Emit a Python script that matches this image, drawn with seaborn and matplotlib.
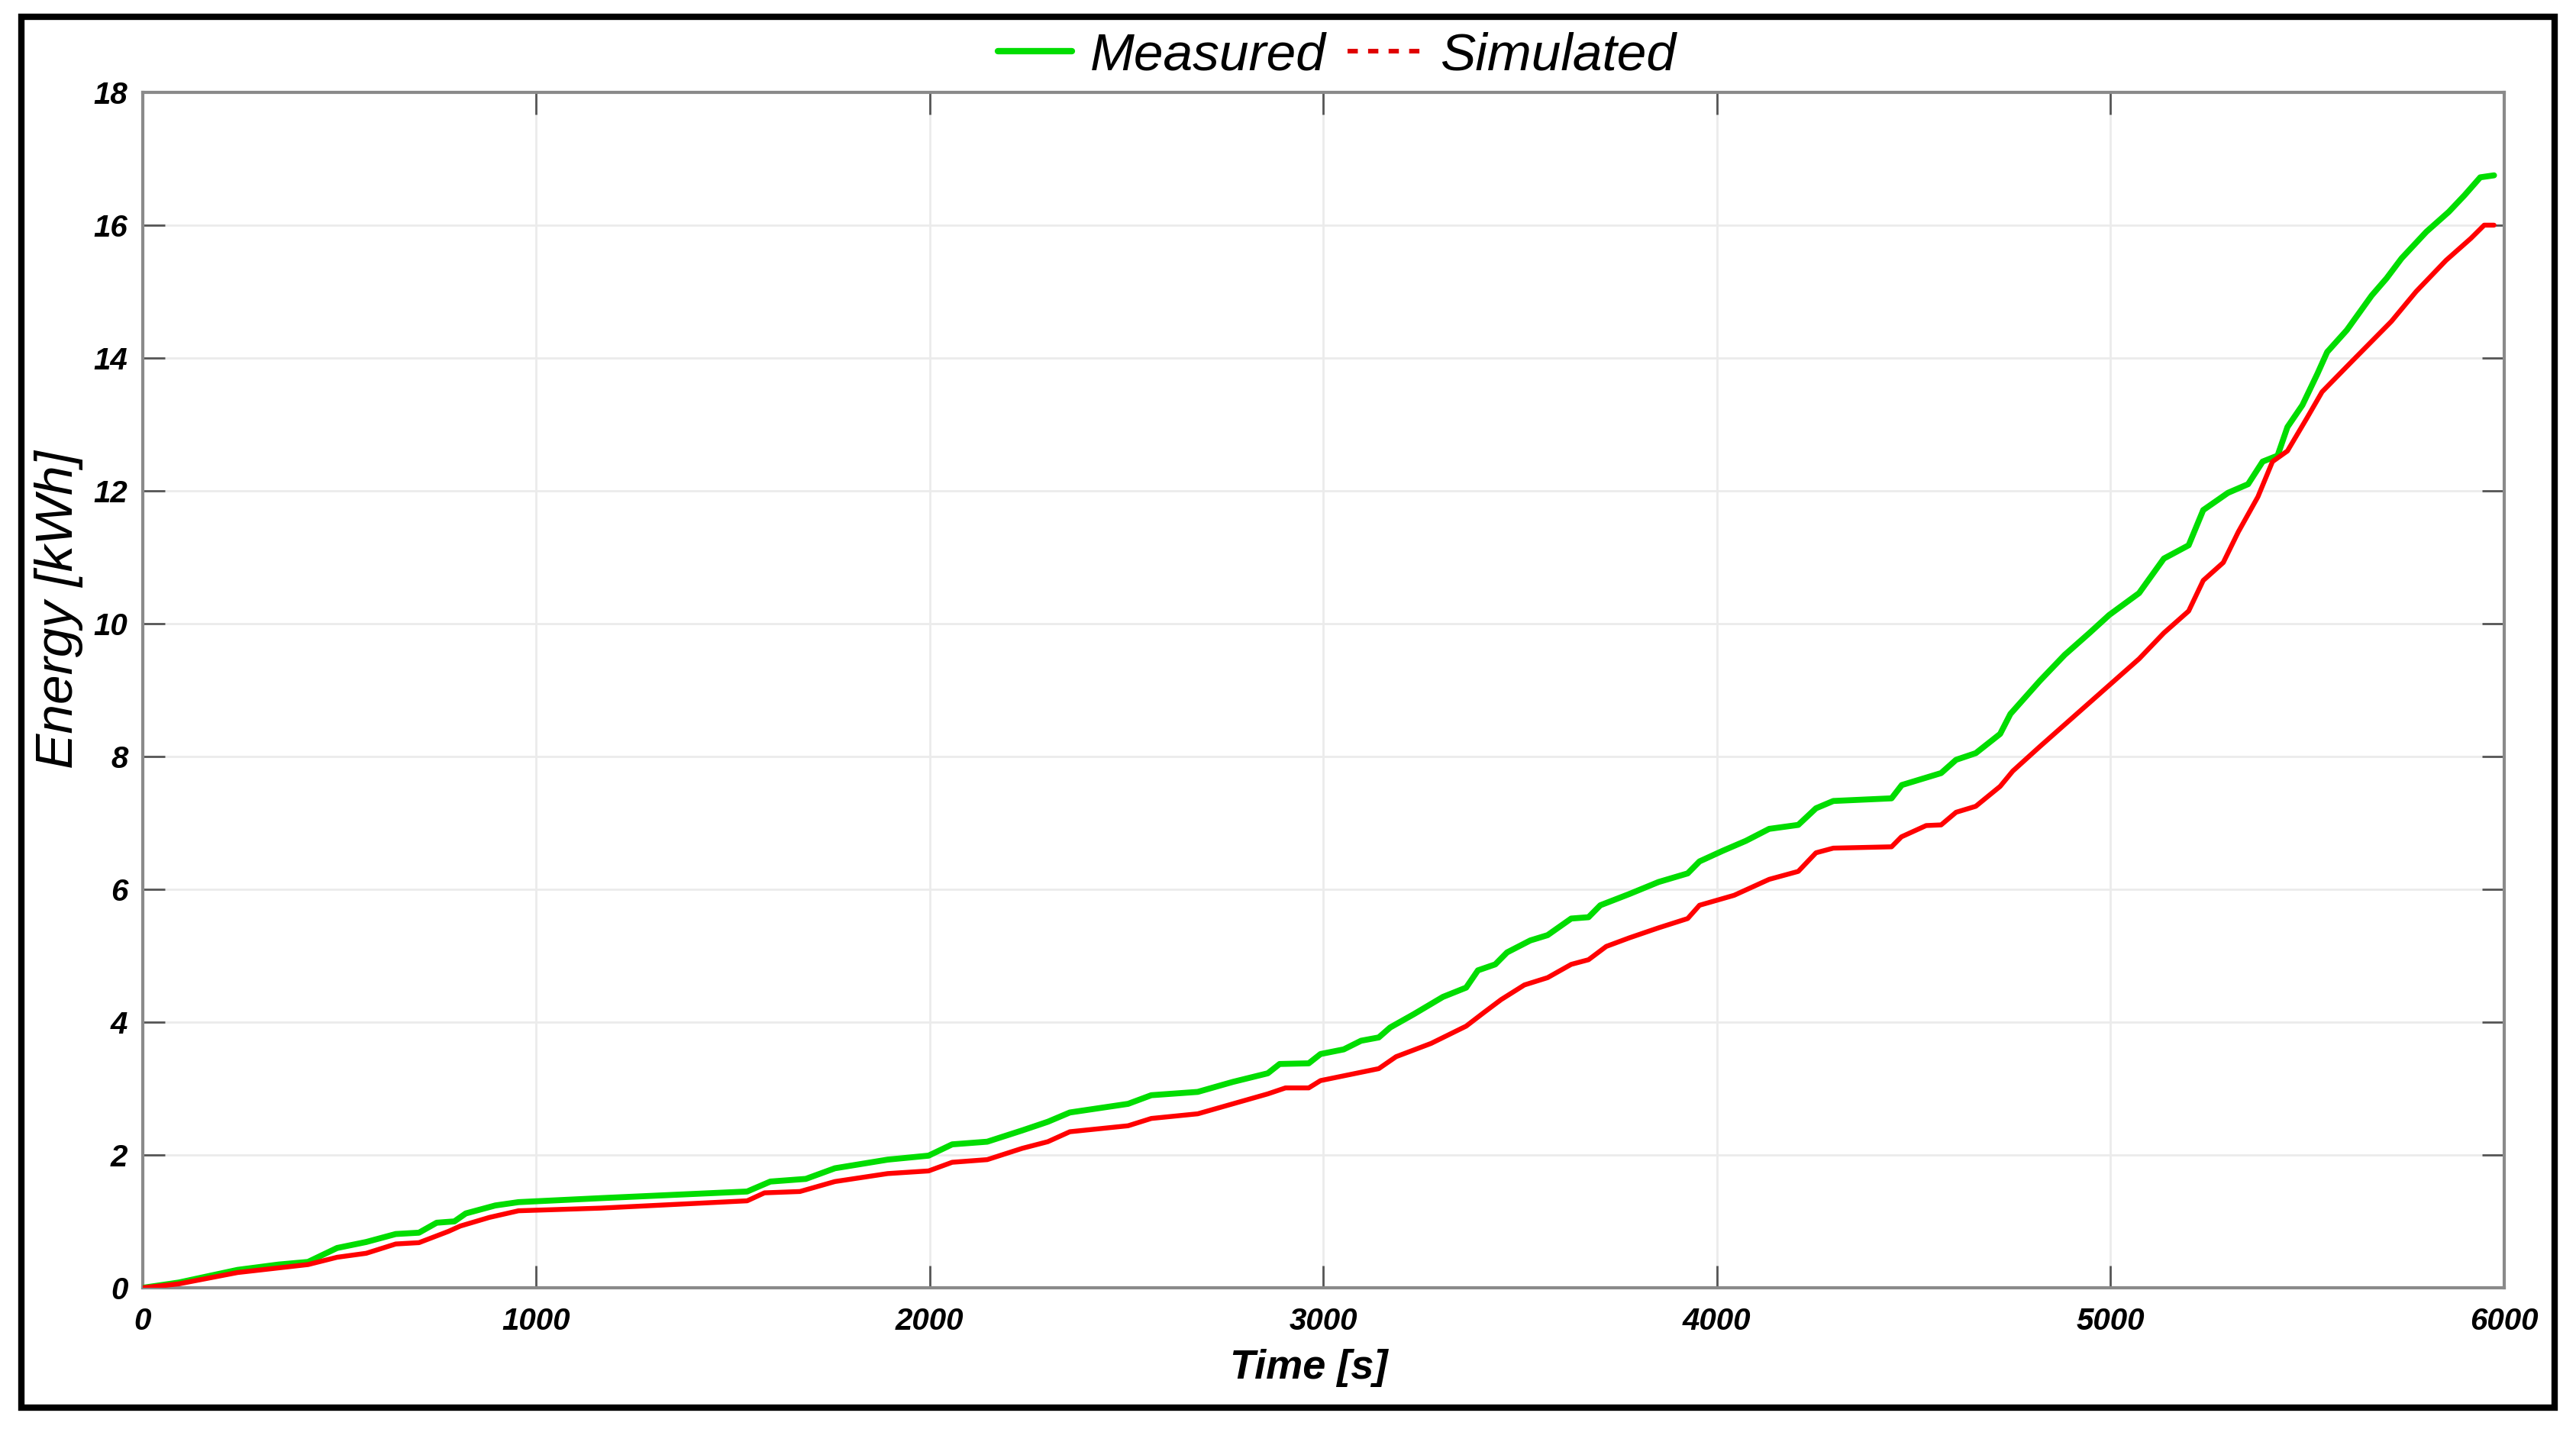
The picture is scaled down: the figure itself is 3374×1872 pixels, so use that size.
import pandas as pd
import numpy as np
import matplotlib
matplotlib.use("Agg")
import matplotlib.pyplot as plt
import seaborn as sns
from matplotlib.lines import Line2D
from matplotlib.patches import Rectangle

# ========== DATA ==========
time_measured = [0, 92, 241, 345, 420, 494, 568, 643, 702, 747, 792, 821, 896, 955,
                 1164, 1536, 1595, 1685, 1759, 1893, 1997, 2057, 2146, 2235, 2300,
                 2356, 2504, 2563, 2681, 2770, 2859, 2889, 2963, 2993, 3052, 3096,
                 3141, 3170, 3230, 3304, 3363, 3393, 3437, 3467, 3526, 3570, 3630,
                 3674, 3704, 3778, 3852, 3926, 3956, 4015, 4074, 4133, 4207, 4252,
                 4296, 4444, 4470, 4570, 4608, 4658, 4720, 4746, 4821, 4884, 4947,
                 4997, 5073, 5136, 5199, 5236, 5299, 5350, 5387, 5425, 5450, 5488,
                 5526, 5551, 5601, 5664, 5702, 5740, 5803, 5860, 5900, 5940, 5975]
energy_measured = [0, 0.08, 0.27, 0.35, 0.39, 0.60, 0.69, 0.81, 0.83, 0.98, 1.00, 1.12,
                   1.24, 1.29, 1.35, 1.45, 1.60, 1.64, 1.80, 1.93, 1.99, 2.16, 2.20,
                   2.37, 2.50, 2.64, 2.77, 2.90, 2.95, 3.10, 3.23, 3.37, 3.38, 3.52,
                   3.59, 3.72, 3.77, 3.92, 4.12, 4.38, 4.52, 4.78, 4.87, 5.05, 5.23,
                   5.31, 5.56, 5.58, 5.76, 5.93, 6.11, 6.24, 6.42, 6.58, 6.73, 6.91,
                   6.97, 7.22, 7.33, 7.37, 7.57, 7.75, 7.95, 8.05, 8.34, 8.64, 9.14,
                   9.53, 9.86, 10.13, 10.46, 10.98, 11.18, 11.71, 11.97, 12.10, 12.44,
                   12.53, 12.96, 13.29, 13.76, 14.09, 14.42, 14.94, 15.20, 15.50,
                   15.90, 16.20, 16.45, 16.72, 16.75]

time_simulated = [0, 92, 241, 420, 494, 568, 643, 702, 777, 807, 881, 955, 1164, 1536,
                  1580, 1670, 1759, 1893, 1997, 2057, 2146, 2235, 2300, 2356, 2504,
                  2563, 2681, 2770, 2859, 2904, 2963, 2993, 3067, 3141, 3185, 3274,
                  3363, 3407, 3452, 3511, 3570, 3630, 3674, 3719, 3778, 3852, 3926,
                  3956, 4044, 4133, 4207, 4252, 4296, 4444, 4469, 4532, 4570, 4608,
                  4658, 4720, 4752, 4821, 4884, 4947, 5010, 5073, 5136, 5199, 5236,
                  5287, 5325, 5375, 5412, 5450, 5500, 5538, 5614, 5714, 5777, 5853,
                  5916, 5950, 5975]
energy_simulated = [0, 0.06, 0.23, 0.35, 0.46, 0.52, 0.66, 0.68, 0.85, 0.93, 1.06, 1.16,
                    1.20, 1.31, 1.43, 1.45, 1.60, 1.72, 1.76, 1.89, 1.93, 2.10, 2.20,
                    2.35, 2.44, 2.55, 2.62, 2.77, 2.92, 3.01, 3.01, 3.12, 3.21, 3.30,
                    3.48, 3.68, 3.94, 4.14, 4.34, 4.56, 4.67, 4.87, 4.94, 5.14, 5.27,
                    5.42, 5.56, 5.76, 5.91, 6.15, 6.27, 6.55, 6.62, 6.64, 6.79, 6.96,
                    6.97, 7.16, 7.25, 7.55, 7.78, 8.15, 8.48, 8.81, 9.14, 9.47, 9.86,
                    10.19, 10.65, 10.92, 11.38, 11.91, 12.44, 12.60, 13.10, 13.49,
                    13.95, 14.55, 15.00, 15.47, 15.80, 16.00, 16.00]

x_ticks = [0, 1000, 2000, 3000, 4000, 5000, 6000]
y_ticks = [0, 2, 4, 6, 8, 10, 12, 14, 16, 18]
series_labels = ["Measured", "Simulated"]

GREEN = "#00dd00"
RED = "#ff0000"

# ========== STYLE ==========
sns.set_style("white")
plt.rcParams["font.family"] = ["Liberation Sans", "DejaVu Sans"]
plt.rcParams["text.color"] = "black"
plt.rcParams["axes.labelcolor"] = "black"
plt.rcParams["xtick.labelcolor"] = "black"
plt.rcParams["ytick.labelcolor"] = "black"

df_meas = pd.DataFrame({"t": time_measured, "E": energy_measured})
df_sim = pd.DataFrame({"t": time_simulated, "E": energy_simulated})

fig = plt.figure(figsize=(16.87, 9.36), dpi=200)
ax = fig.add_axes([0.0554, 0.0988, 0.9166, 0.8366])

sns.lineplot(data=df_meas, x="t", y="E", ax=ax, color=GREEN, lw=2.8,
             estimator=None, sort=False, zorder=3)
sns.lineplot(data=df_sim, x="t", y="E", ax=ax, color=RED, lw=2.3,
             estimator=None, sort=False, zorder=4)

ax.set_xlim(0, 6000)
ax.set_ylim(0, 18)
ax.set_xticks(x_ticks)
ax.set_yticks(y_ticks)
ax.set_xticklabels([str(v) for v in x_ticks], fontsize=14.5, fontweight="bold", style="italic")
ax.set_yticklabels([str(v) for v in y_ticks], fontsize=14.5, fontweight="bold", style="italic")

ax.grid(True, color="#ebebeb", lw=1.0)
ax.set_axisbelow(True)
for s in ax.spines.values():
    s.set_visible(True)
    s.set_color("#8a8a8a")
    s.set_linewidth(1.5)

ax.tick_params(axis="both", which="major", direction="in", length=10.5, width=1.0,
               color="#555555", top=True, right=True, bottom=True, left=True)
ax.tick_params(axis="x", pad=9)
ax.tick_params(axis="y", pad=7)

ax.set_xlabel("Time [s]", fontsize=19.5, fontweight="bold", style="italic",
              labelpad=6, x=0.494)
ax.set_ylabel("Energy [kWh]", fontsize=25, style="italic", labelpad=5, y=0.567)

# legend: measured solid green, simulated shown dashed red
handles = [Line2D([0], [0], color=GREEN, lw=3.0),
           Line2D([0], [0], color="#e00000", lw=2.2, ls=(0, (2.2, 2.2)))]
fig.legend(handles, series_labels, loc="center", bbox_to_anchor=(0.519, 0.961),
           ncol=2, frameon=False, prop={"size": 25, "style": "italic"},
           handlelength=1.4, handletextpad=0.35, columnspacing=0.4,
           labelcolor="black")

# black frame around whole picture
fig.patches.append(Rectangle((0.0083, 0.015), 0.9834, 0.973, transform=fig.transFigure,
                             fill=False, edgecolor="black", lw=3.0, zorder=10))

fig.savefig("out.png", dpi=200, facecolor="white")
